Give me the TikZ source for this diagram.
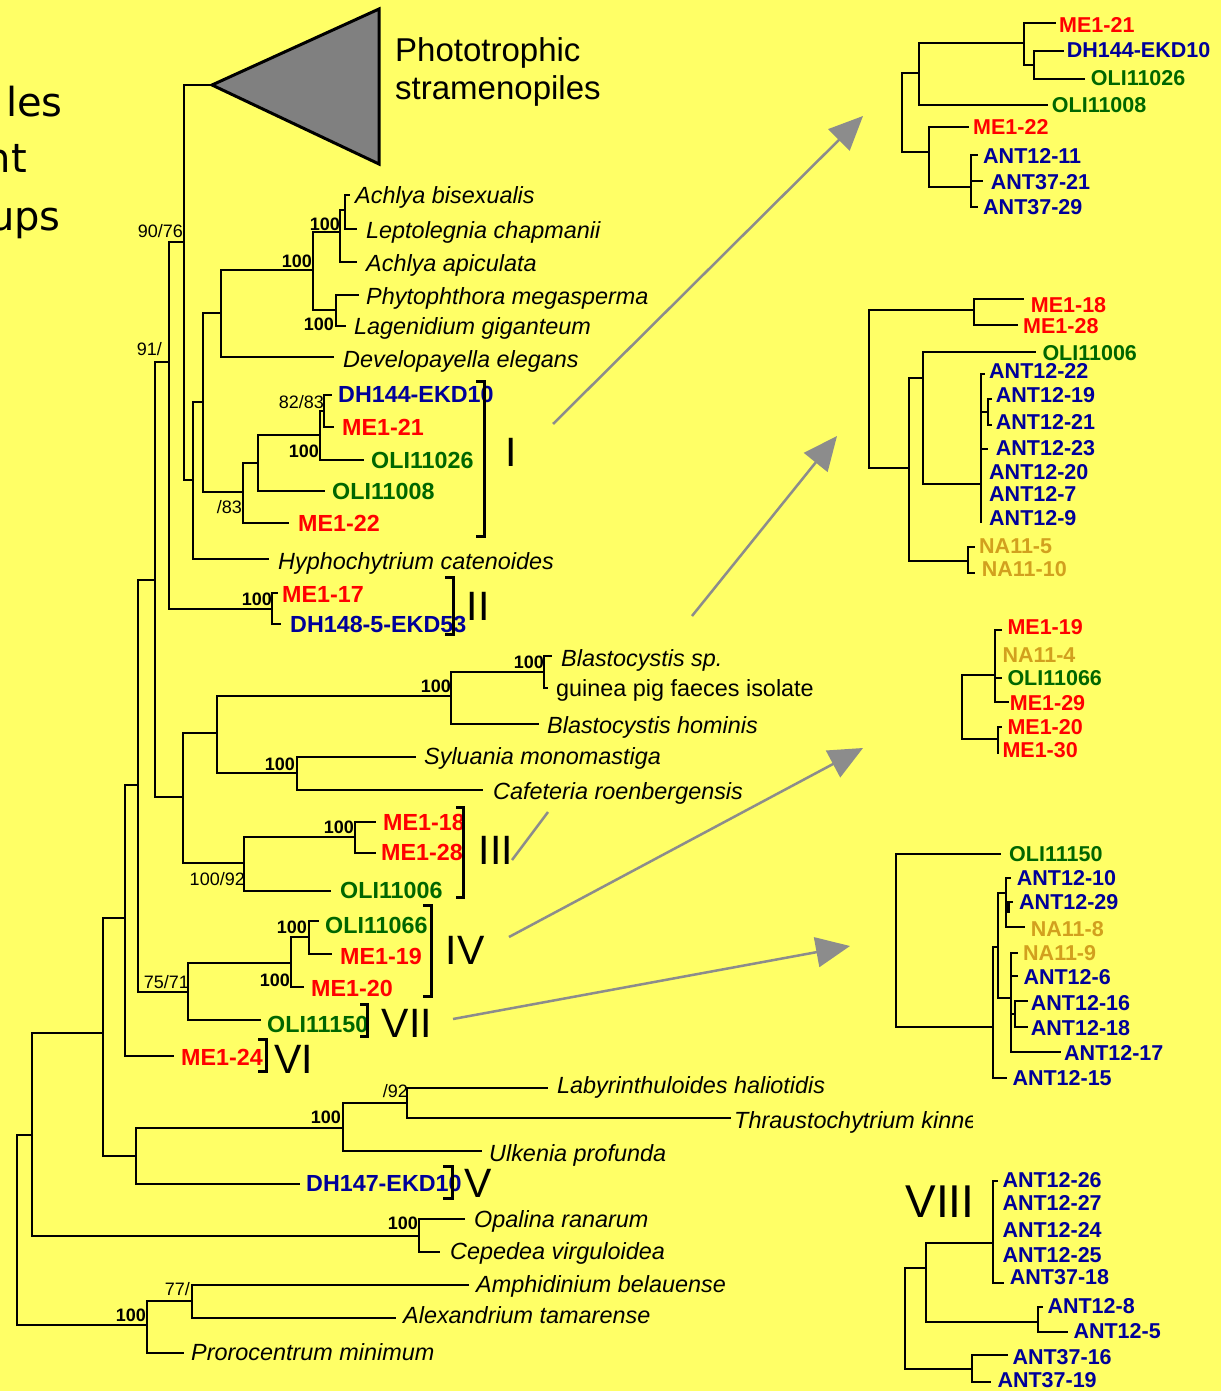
\documentclass[tikz,border=0pt]{standalone}
\usepackage{fontspec}
\setmainfont{Liberation Sans}
\newfontfamily\titlefont{DejaVu Sans}
\usetikzlibrary{arrows.meta}
\definecolor{bgyellow}{RGB}{255,255,102}
\definecolor{seqred}{RGB}{255,0,0}
\definecolor{seqblue}{RGB}{0,0,153}
\definecolor{seqgreen}{RGB}{0,102,0}
\definecolor{seqgold}{RGB}{210,160,30}
\definecolor{pointergray}{RGB}{140,140,140}
\definecolor{cladegray}{RGB}{128,128,128}
\tikzset{
  br/.style={line width=2.2pt, line cap=rect},
  brk/.style={line width=3pt},
  tiplab/.style={inner sep=0pt, anchor=base west},
  sp/.style={tiplab, font=\fontsize{23.4}{23.4}\selectfont\itshape},
  plain/.style={tiplab, font=\fontsize{23.4}{23.4}\selectfont},
  seq/.style={tiplab, font=\fontsize{23.3}{23.3}\selectfont\bfseries},
  rseq/.style={tiplab, font=\fontsize{21.5}{21.5}\selectfont\bfseries},
  bsn/.style={inner sep=0pt, anchor=base east, font=\fontsize{18}{18}\selectfont},
  bsb/.style={inner sep=0pt, anchor=base east, font=\fontsize{18}{18}\selectfont\bfseries},
  roman/.style={inner sep=0pt, anchor=center, font=\fontsize{41}{41}\selectfont},
  pointer/.style={draw=pointergray, line width=2.5pt},
  pointerhead/.style={pointer, -{Triangle[length=34pt,width=30pt]}},
}
\begin{document}
\begin{tikzpicture}[x=1pt,y=-1pt]
\useasboundingbox (0,0) rectangle (1221,1391);
\fill[bgyellow] (0,0) rectangle (1221,1391);

% ---------- heading fragments ----------
\node[inner sep=0pt, anchor=base east, font=\titlefont\fontsize{40}{40}\selectfont] (hd1) at (63,117) {les};
\node[inner sep=0pt, anchor=base east, font=\titlefont\fontsize{40}{40}\selectfont] (hd2) at (27,173) {nt};
\node[inner sep=0pt, anchor=base east, font=\titlefont\fontsize{40}{40}\selectfont] (hd3) at (61,230) {ups};

% ---------- collapsed clade ----------
\coordinate (apex) at (212,85);
\draw[line width=3pt, fill=cladegray] (apex) -- (379,9) -- (379,164) -- cycle;
\node[inner sep=0pt, anchor=base west, font=\fontsize{33}{33}\selectfont] (photo1) at (395,62) {Phototrophic};
\node[inner sep=0pt, anchor=base west, font=\fontsize{33}{33}\selectfont] (photo2) at (395,100) {stramenopiles};

% ---------- main tree: internal nodes (bar x, joining y) ----------
\coordinate (r0) at (17,1135);
\coordinate (n32) at (32,1135);
\coordinate (n103) at (103,1033);
\coordinate (n125) at (125,918);
\coordinate (n138) at (138,785);
\coordinate (n155) at (155,580);
\coordinate (n169) at (169,362);
\coordinate (n184) at (184,242);
\coordinate (n193) at (193,480);
\coordinate (n203) at (203,402);
\coordinate (n221) at (221,313);
\coordinate (n313) at (313,270);
\coordinate (n340) at (340,232);
\coordinate (n345) at (345,210);
\coordinate (n336) at (336,310);
\coordinate (n243) at (243,492);
\coordinate (n258) at (258,463);
\coordinate (n320) at (320,435);
\coordinate (n324) at (324,411);
\coordinate (n272) at (272,609);
\coordinate (n183) at (183,797);
\coordinate (n217) at (217,733);
\coordinate (n451) at (451,696);
\coordinate (n544) at (544,672);
\coordinate (n297) at (297,773);
\coordinate (n244) at (244,863);
\coordinate (n355) at (355,837);
\coordinate (n188) at (188,992);
\coordinate (n291) at (291,963);
\coordinate (n309) at (309,937);
\coordinate (n136) at (136,1156);
\coordinate (n343) at (343,1128);
\coordinate (n407) at (407,1103);
\coordinate (noc) at (419,1236);
\coordinate (n147) at (147,1325);
\coordinate (n192) at (192,1301);
% tips
\coordinate (tAbis) at (349,195);
\coordinate (tLept) at (356,229);
\coordinate (tAapi) at (356,262);
\coordinate (tPhyt) at (358,295);
\coordinate (tLage) at (345,326);
\coordinate (tDeve) at (333,357);
\coordinate (tDHa) at (331,395);
\coordinate (tMEa) at (333,427);
\coordinate (tOLIa) at (363,460);
\coordinate (tOLIb) at (324,491);
\coordinate (tMEb) at (288,523);
\coordinate (tHyph) at (268,559);
\coordinate (tMEc) at (277,593);
\coordinate (tDHb) at (280,624);
\coordinate (tBsp) at (551,656);
\coordinate (tGuin) at (547,688);
\coordinate (tBhom) at (538,724);
\coordinate (tSylu) at (415,757);
\coordinate (tCafe) at (482,790);
\coordinate (tMEd) at (375,822);
\coordinate (tMEe) at (375,853);
\coordinate (tOLIc) at (330,891);
\coordinate (tOLId) at (318,921);
\coordinate (tMEf) at (331,954);
\coordinate (tMEg) at (303,987);
\coordinate (tOLIe) at (260,1020);
\coordinate (tMEh) at (173,1056);
\coordinate (tLaby) at (547,1088);
\coordinate (tThra) at (730,1118);
\coordinate (tUlke) at (481,1151);
\coordinate (tDHc) at (299,1184);
\coordinate (tOpal) at (464,1219);
\coordinate (tCepe) at (439,1252);
\coordinate (tAmph) at (468,1285);
\coordinate (tAlex) at (395,1318);
\coordinate (tPror) at (183,1353);

\draw[br]
  (r0) -- (n32)  (r0) |- (n147)
  (n32) |- (n103)  (n32) |- (noc)
  (n103) |- (n125)  (n103) |- (n136)
  (n125) |- (n138)  (n125) |- (tMEh)
  (n138) |- (n155)  (n138) |- (n188)
  (n155) |- (n169)  (n155) |- (n183)
  (n169) |- (n184)  (n169) |- (n272)
  (n184) |- (apex)  (n184) |- (n193)
  (n193) |- (n203)  (n193) |- (tHyph)
  (n203) |- (n221)  (n203) |- (n243)
  (n221) |- (n313)  (n221) |- (tDeve)
  (n313) |- (n340)  (n313) |- (n336)
  (n340) |- (n345)  (n340) |- (tAapi)
  (n345) |- (tAbis) (n345) |- (tLept)
  (n336) |- (tPhyt) (n336) |- (tLage)
  (n243) |- (n258)  (n243) |- (tMEb)
  (n258) |- (n320)  (n258) |- (tOLIb)
  (n320) |- (n324)  (n320) |- (tOLIa)
  (n324) |- (tDHa)  (n324) |- (tMEa)
  (n272) |- (tMEc)  (n272) |- (tDHb)
  (n183) |- (n217)  (n183) |- (n244)
  (n217) |- (n451)  (n217) |- (n297)
  (n451) |- (n544)  (n451) |- (tBhom)
  (n544) |- (tBsp)  (n544) |- (tGuin)
  (n297) |- (tSylu) (n297) |- (tCafe)
  (n244) |- (n355)  (n244) |- (tOLIc)
  (n355) |- (tMEd)  (n355) |- (tMEe)
  (n188) |- (n291)  (n188) |- (tOLIe)
  (n291) |- (n309)  (n291) |- (tMEg)
  (n309) |- (tOLId) (n309) |- (tMEf)
  (n136) |- (n343)  (n136) |- (tDHc)
  (n343) |- (n407)  (n343) |- (tUlke)
  (n407) |- (tLaby) (n407) |- (tThra)
  (noc) |- (tOpal)  (noc) |- (tCepe)
  (n147) |- (n192)  (n147) |- (tPror)
  (n192) |- (tAmph) (n192) |- (tAlex);

% ---------- support values ----------
\node[bsn] (s1) at (183,237) {90/76};
\node[bsn] (s2) at (162,355) {91/};
\node[bsb] (s3) at (312,267) {100};
\node[bsb] (s4) at (340,230) {100};
\node[bsb] (s5) at (334,330) {100};
\node[bsn] (s6) at (324,408) {82/83};
\node[bsb] (s7) at (319,457) {100};
\node[bsn] (s8) at (242,513) {/83};
\node[bsb] (s9) at (272,605) {100};
\node[bsb] (s10) at (544,668) {100};
\node[bsb] (s11) at (451,692) {100};
\node[bsb] (s12) at (295,770) {100};
\node[bsb] (s13) at (354,833) {100};
\node[bsn] (s14) at (245,885) {100/92};
\node[bsb] (s15) at (307,933) {100};
\node[bsb] (s16) at (290,986) {100};
\node[bsn] (s17) at (189,988) {75/71};
\node[bsn] (s18) at (408,1097) {/92};
\node[bsb] (s19) at (341,1123) {100};
\node[bsb] (s20) at (418,1229) {100};
\node[bsn] (s21) at (190,1295) {77/};
\node[bsb] (s22) at (146,1321) {100};

% ---------- main tree labels ----------
\node[sp] (lAbis) at (355,204) {Achlya bisexualis};
\node[sp] (lLept) at (366,238) {Leptolegnia chapmanii};
\node[sp] (lAapi) at (366,271) {Achlya apiculata};
\node[sp] (lPhyt) at (366,304) {Phytophthora megasperma};
\node[sp] (lLage) at (354,334) {Lagenidium giganteum};
\node[sp] (lDeve) at (343,367) {Developayella elegans};
\node[seq, text=seqblue] (lDHa) at (338,402) {DH144-EKD10};
\node[seq, text=seqred] (lMEa) at (342,435) {ME1-21};
\node[seq, text=seqgreen] (lOLIa) at (371,468) {OLI11026};
\node[seq, text=seqgreen] (lOLIb) at (332,499) {OLI11008};
\node[seq, text=seqred] (lMEb) at (298,531) {ME1-22};
\node[sp] (lHyph) at (278,569) {Hyphochytrium catenoides};
\node[seq, text=seqred] (lMEc) at (282,602) {ME1-17};
\node[seq, text=seqblue] (lDHb) at (290,632) {DH148-5-EKD53};
\node[sp] (lBsp) at (561,666) {Blastocystis sp.};
\node[plain] (lGuin) at (556,696) {guinea pig faeces isolate};
\node[sp] (lBhom) at (547,733) {Blastocystis hominis};
\node[sp] (lSylu) at (424,764) {Syluania monomastiga};
\node[sp] (lCafe) at (493,799) {Cafeteria roenbergensis};
\node[seq, text=seqred] (lMEd) at (383,830) {ME1-18};
\node[seq, text=seqred] (lMEe) at (381,860) {ME1-28};
\node[seq, text=seqgreen] (lOLIc) at (340,898) {OLI11006};
\node[seq, text=seqgreen] (lOLId) at (325,933) {OLI11066};
\node[seq, text=seqred] (lMEf) at (340,964) {ME1-19};
\node[seq, text=seqred] (lMEg) at (311,996) {ME1-20};
\node[seq, text=seqgreen] (lOLIe) at (267,1032) {OLI11150};
\node[seq, text=seqred] (lMEh) at (181,1065) {ME1-24};
\node[sp] (lLaby) at (557,1093) {Labyrinthuloides haliotidis};
\begin{scope}
  \clip (0,0) rectangle (972,1391);
  \node[sp] (lThra) at (734,1128) {Thraustochytrium kinne};
\end{scope}
\node[sp] (lUlke) at (489,1161) {Ulkenia profunda};
\node[seq, text=seqblue] (lDHc) at (306,1191) {DH147-EKD10};
\node[sp] (lOpal) at (474,1227) {Opalina ranarum};
\node[sp] (lCepe) at (450,1259) {Cepedea virguloidea};
\node[sp] (lAmph) at (476,1292) {Amphidinium belauense};
\node[sp] (lAlex) at (403,1323) {Alexandrium tamarense};
\node[sp] (lPror) at (191,1360) {Prorocentrum minimum};

% ---------- clade brackets and numerals ----------
\draw[brk] (476,381) -- (484,381) -- (484,536) -- (476,536);
\draw[brk] (445,577) -- (453,577) -- (453,634) -- (445,634);
\draw[brk] (456,807) -- (463,807) -- (463,897) -- (456,897);
\draw[brk] (423,905) -- (431,905) -- (431,996) -- (423,996);
\draw[brk] (360,1004) -- (367,1004) -- (367,1036) -- (360,1036);
\draw[brk] (258,1039) -- (266,1039) -- (266,1071) -- (258,1071);
\draw[brk] (443,1166) -- (452,1166) -- (452,1198) -- (443,1198);
\node[roman] (cI) at (511,452) {I};
\node[roman] (cII) at (478,606) {II};
\node[roman] (cIII) at (496,850) {III};
\node[roman] (cIV) at (465,950) {IV};
\node[roman] (cVII) at (407,1023) {VII};
\node[roman] (cVI) at (294,1059) {VI};
\node[roman] (cV) at (478,1183) {V};
\node[roman, font=\fontsize{46}{46}\selectfont] (cVIII) at (940,1202) {VIII};

% ---------- pointers to the detailed subtrees ----------
\coordinate (p1s) at (553,424);  \coordinate (p1e) at (863,116);
\coordinate (p2s) at (692,616);  \coordinate (p2e) at (837,436);
\coordinate (p3s) at (509,937);  \coordinate (p3e) at (863,748);
\coordinate (p4s) at (453,1019); \coordinate (p4e) at (850,946);
\coordinate (p5s) at (512,860);  \coordinate (p5e) at (548,812);
\draw[pointerhead] (p1s) -- (p1e);
\draw[pointerhead] (p2s) -- (p2e);
\draw[pointerhead] (p3s) -- (p3e);
\draw[pointerhead] (p4s) -- (p4e);
\draw[pointer] (p5s) -- (p5e);

% ---------- subtree: clade I sequences ----------
\coordinate (ar) at (901.7,72.7);
\coordinate (a1) at (919.3,72.7);
\coordinate (a2) at (929.3,151.7);
\coordinate (a3) at (1024,42.7);
\coordinate (a4) at (1034.3,65);
\coordinate (a5) at (970.7,186.7);
\coordinate (aT1) at (1055,23.3);
\coordinate (aT2) at (1062.7,51);
\coordinate (aT3) at (1084,79.3);
\coordinate (aT4) at (1046.7,105.3);
\coordinate (aT5) at (968.3,126.7);
\coordinate (aT6) at (976.7,155);
\coordinate (aT7) at (981.7,181);
\coordinate (aT8) at (977,207);
\draw[br] (ar) -- (a1)  (ar) |- (a2)
  (a1) |- (a3)  (a1) |- (aT4)
  (a3) |- (aT1) (a3) |- (a4)
  (a4) |- (aT2) (a4) |- (aT3)
  (a2) |- (aT5) (a2) |- (a5)
  (a5) |- (aT6) (a5) |- (aT7) (a5) |- (aT8);
\node[rseq, text=seqred] (aL1) at (1059,32.5) {ME1-21};
\node[rseq, text=seqblue] (aL2) at (1066.7,57.5) {DH144-EKD10};
\node[rseq, text=seqgreen] (aL3) at (1090.7,85.2) {OLI11026};
\node[rseq, text=seqgreen] (aL4) at (1051.7,112.8) {OLI11008};
\node[rseq, text=seqred] (aL5) at (973,134.2) {ME1-22};
\node[rseq, text=seqblue] (aL6) at (983,163.2) {ANT12-11};
\node[rseq, text=seqblue] (aL7) at (990.7,189.2) {ANT37-21};
\node[rseq, text=seqblue] (aL8) at (983,214.2) {ANT37-29};

% ---------- subtree: clade III sequences ----------
\coordinate (br0) at (869,310);
\coordinate (b1) at (974,310);
\coordinate (b2) at (909.3,468.3);
\coordinate (b3) at (922.7,378.3);
\coordinate (b4) at (968.3,561);
\coordinate (b5) at (981,484.3);
\coordinate (b6) at (988.3,412.3);
\coordinate (bT1) at (1022.7,299);
\coordinate (bT2) at (1016.7,325);
\coordinate (bT3) at (1035,351.7);
\coordinate (bT4) at (984,374.3);
\coordinate (bT5) at (991,399);
\coordinate (bT6) at (991,425);
\coordinate (bT7) at (987,449);
\coordinate (bT8) at (981,472);
\coordinate (bT9) at (981,494);
\coordinate (bT10) at (981,522.3);
\coordinate (bT11) at (974,546.7);
\coordinate (bT12) at (974,573.3);
\draw[br] (br0) -- (b1)  (br0) |- (b2)
  (b1) |- (bT1) (b1) |- (bT2)
  (b2) |- (b3)  (b2) |- (b4)
  (b3) |- (bT3) (b3) |- (b5)
  (b5) |- (bT4) (b5) |- (b6) (b5) |- (bT7) (b5) |- (bT8) (b5) |- (bT9) (b5) |- (bT10)
  (b6) |- (bT5) (b6) |- (bT6)
  (b4) |- (bT11) (b4) |- (bT12);
\node[rseq, text=seqred] (bL1) at (1030.7,312.5) {ME1-18};
\node[rseq, text=seqred] (bL2) at (1023,333.2) {ME1-28};
\node[rseq, text=seqgreen] (bL3) at (1042.3,360.8) {OLI11006};
\node[rseq, text=seqblue] (bL4) at (989,378.5) {ANT12-22};
\node[rseq, text=seqblue] (bL5) at (995.7,402.5) {ANT12-19};
\node[rseq, text=seqblue] (bL6) at (995.7,429.2) {ANT12-21};
\node[rseq, text=seqblue] (bL7) at (995.7,455.2) {ANT12-23};
\node[rseq, text=seqblue] (bL8) at (989,479.2) {ANT12-20};
\node[rseq, text=seqblue] (bL9) at (989,501.8) {ANT12-7};
\node[rseq, text=seqblue] (bL10) at (989,525.8) {ANT12-9};
\node[rseq, text=seqgold] (bL11) at (979,553.5) {NA11-5};
\node[rseq, text=seqgold] (bL12) at (981.7,576.8) {NA11-10};

% ---------- subtree: clade IV sequences ----------
\coordinate (cr) at (962.3,675);
\coordinate (c1) at (995,675);
\coordinate (c2) at (998.3,739.3);
\coordinate (cT1) at (1001,630);
\coordinate (cT2) at (995,655);
\coordinate (cT3) at (1001,678);
\coordinate (cT4) at (1008,701.7);
\coordinate (cT5) at (1001,727.3);
\coordinate (cT6) at (998.3,753.3);
\draw[br] (cr) -- (c1)  (cr) |- (c2)
  (c1) |- (cT1) (c1) |- (cT2) (c1) |- (cT3) (c1) |- (cT4)
  (c2) |- (cT5) (c2) |- (cT6);
\node[rseq, text=seqred] (cL1) at (1007.3,634.8) {ME1-19};
\node[rseq, text=seqgold] (cL2) at (1002.3,662.5) {NA11-4};
\node[rseq, text=seqgreen] (cL3) at (1007.3,685.8) {OLI11066};
\node[rseq, text=seqred] (cL4) at (1009.7,710.2) {ME1-29};
\node[rseq, text=seqred] (cL5) at (1007.3,734.2) {ME1-20};
\node[rseq, text=seqred] (cL6) at (1002.3,757.5) {ME1-30};

% ---------- subtree: clade VII sequences ----------
\coordinate (dr) at (895.7,854);
\coordinate (d1) at (993.3,1026.7);
\coordinate (d2) at (998.3,946.7);
\coordinate (d3) at (1006,892.7);
\coordinate (d3b) at (1008.5,912);
\coordinate (d4) at (1010.7,997.7);
\coordinate (d5) at (1015,1014);
\coordinate (dT1) at (1000,854);
\coordinate (dT2) at (1010,878.3);
\coordinate (dT3) at (1012,901.7);
\coordinate (dT4) at (1024,926.7);
\coordinate (dT5) at (1016.7,952.7);
\coordinate (dT6) at (1016.7,976);
\coordinate (dT7) at (1026.7,1001);
\coordinate (dT8) at (1026.7,1026.7);
\coordinate (dT9) at (1060,1051.7);
\coordinate (dT10) at (1006,1077.7);
\draw[br] (dr) -- (dT1)  (dr) |- (d1)
  (d1) |- (d2)  (d1) |- (dT10)
  (d2) |- (d3)  (d2) |- (d4)
  (d3) |- (dT2) (d3) |- (d3b) (d3) |- (dT4)
  (d3b) |- (dT3)
  (d4) |- (dT5) (d4) |- (dT6) (d4) |- (d5) (d4) |- (dT9)
  (d5) |- (dT7) (d5) |- (dT8);
\node[rseq, text=seqgreen] (dL1) at (1009,861.5) {OLI11150};
\node[rseq, text=seqblue] (dL2) at (1016.7,885.8) {ANT12-10};
\node[rseq, text=seqblue] (dL3) at (1019,909.8) {ANT12-29};
\node[rseq, text=seqgold] (dL4) at (1030.7,936.5) {NA11-8};
\node[rseq, text=seqgold] (dL5) at (1023,960.8) {NA11-9};
\node[rseq, text=seqblue] (dL6) at (1023.3,984.2) {ANT12-6};
\node[rseq, text=seqblue] (dL7) at (1030.7,1010.8) {ANT12-16};
\node[rseq, text=seqblue] (dL8) at (1030.7,1035.2) {ANT12-18};
\node[rseq, text=seqblue] (dL9) at (1064,1060.8) {ANT12-17};
\node[rseq, text=seqblue] (dL10) at (1012.3,1085.2) {ANT12-15};

% ---------- subtree: clade VIII sequences ----------
\coordinate (er) at (905,1268.3);
\coordinate (e1) at (925.7,1268.3);
\coordinate (e2) at (971.7,1369);
\coordinate (e3) at (993.3,1242.7);
\coordinate (e4) at (1038.3,1321.7);
\coordinate (eT1) at (997,1180.7);
\coordinate (eT2) at (993.3,1203);
\coordinate (eT3) at (993.3,1230);
\coordinate (eT4) at (993.3,1255);
\coordinate (eT5) at (1003.3,1283.3);
\coordinate (eT6) at (1041.7,1306.7);
\coordinate (eT7) at (1066.7,1331.7);
\coordinate (eT8) at (1006.7,1355);
\coordinate (eT9) at (990,1381.7);
\draw[br] (er) -- (e1)  (er) |- (e2)
  (e1) |- (e3)  (e1) |- (e4)
  (e3) |- (eT1) (e3) |- (eT2) (e3) |- (eT3) (e3) |- (eT4) (e3) |- (eT5)
  (e4) |- (eT6) (e4) |- (eT7)
  (e2) |- (eT8) (e2) |- (eT9);
\node[rseq, text=seqblue] (eL1) at (1002.3,1187.5) {ANT12-26};
\node[rseq, text=seqblue] (eL2) at (1002.3,1210.8) {ANT12-27};
\node[rseq, text=seqblue] (eL3) at (1002.3,1237.5) {ANT12-24};
\node[rseq, text=seqblue] (eL4) at (1002.3,1262.5) {ANT12-25};
\node[rseq, text=seqblue] (eL5) at (1009.7,1284.8) {ANT37-18};
\node[rseq, text=seqblue] (eL6) at (1047.3,1313.2) {ANT12-8};
\node[rseq, text=seqblue] (eL7) at (1073.3,1338.2) {ANT12-5};
\node[rseq, text=seqblue] (eL8) at (1012.3,1364.8) {ANT37-16};
\node[rseq, text=seqblue] (eL9) at (997.3,1387.5) {ANT37-19};
\end{tikzpicture}
\end{document}
